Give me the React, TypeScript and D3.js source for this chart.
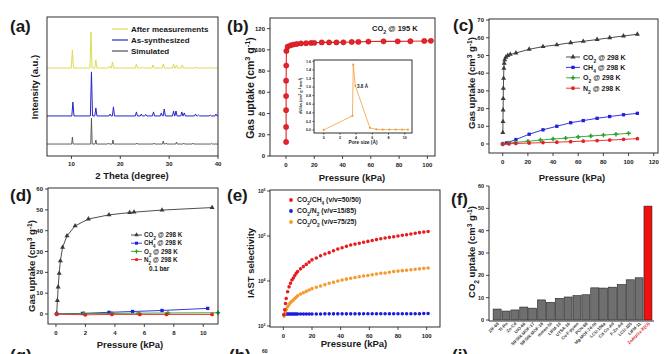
import React from 'react';
import * as d3 from 'd3';

const FONT = '"Liberation Sans", Arial, Helvetica, sans-serif';
const INK = '#1a1a1a';

// ---------- (a) PXRD peaks: [2theta, height above baseline]
const xrdTicks = [10, 20, 30, 40];
const simulatedPeaks = [[10.2, 5], [14.1, 18.7], [15.0, 2.9], [17.6, 0.7], [18.5, 2.9], [23.4, 0.7], [26.9, 0.7], [28.8, 2.2], [29.4, 0.7], [31.5, 1.4], [33.0, 0.7], [34.9, 0.7], [38.7, 0.5]];
const asSynthPeaks = [[10.3, 10], [14.1, 31.7], [15.0, 5.8], [17.9, 1.4], [18.6, 6.5], [23.3, 2.9], [24.3, 1.4], [25.2, 1.1], [26.8, 2.9], [28.4, 2.2], [29.0, 5.0], [30.9, 3.6], [31.4, 3.6], [32.6, 2.9], [33.1, 2.2], [35.4, 1.4], [36.0, 0.7], [38.4, 0.7], [39.6, 1.4]];
const afterPeaks = [[10.2, 13], [14.0, 26], [15.0, 5.8], [17.8, 1.4], [18.4, 4.3], [23.3, 2.9], [24.5, 0.7], [26.7, 2.2], [28.8, 2.9], [30.9, 2.9], [31.5, 2.2], [32.7, 2.2], [35.5, 0.7], [38.0, 0.5]];
const xrdOffsets = { simulated: 8.6, asSynth: 28.8, after: 63.3 };

// ---------- (b) CO2 @ 195 K
const b195P = [0.1, 0.1, 0.1, 0.1, 0.1, 0.2, 0.3, 1.2, 3.3, 5.2, 7.6, 10.6, 14.2, 17.7, 20, 25.3, 30.5, 35.7, 40.6, 46.5, 51.2, 58.3, 69, 79, 88, 97.8, 102.5];
const b195Q = [13.2, 27.4, 43.2, 56.5, 71, 85.2, 99, 103, 104.3, 105, 105.5, 106, 106.2, 106.5, 106.6, 107, 107, 107, 107.1, 107.4, 107.5, 107.8, 108, 108, 108.1, 108.4, 108.5];
const poreSize = [0, 3.55, 3.65, 3.9, 5.7, 6.5, 7.3, 8.1, 8.9, 9.7, 10.4];
const poreDv = [0, 0.33, 1.52, 1.03, 0.05, 0.015, 0.01, 0.01, 0.01, 0.01, 0.01];

// ---------- (c) 298 K isotherms to 1 bar
const cCO2P = [0.1, 0.2, 0.3, 0.4, 0.5, 0.7, 0.9, 1.2, 1.6, 2.5, 4, 6, 10.5, 21, 32, 43, 54, 64, 75, 85, 96, 107];
const cCO2Q = [6.4, 12.6, 19.2, 25.6, 31.4, 37.1, 42.7, 45.6, 47.5, 49, 50, 50.6, 51.4, 53.5, 55, 56, 57.2, 58, 59, 60, 61, 62];
const cCH4P = [0, 3, 10.5, 21, 32, 43, 54, 64, 75, 85, 96, 107];
const cCH4Q = [0, 0.6, 2.5, 5.5, 8, 10, 12, 13.2, 14.5, 15.5, 16.5, 17.3];
const cO2P = [0, 5, 10, 20, 30, 40, 50, 60, 70, 80, 90, 100];
const cO2Q = [0, 0.5, 0.9, 1.5, 2.2, 2.8, 3.3, 4, 4.5, 5, 5.5, 6];
const cN2P = [0, 5, 10.5, 21, 32, 43, 54, 64, 75, 85, 96, 107];
const cN2Q = [0, 0.1, 0.3, 0.5, 0.8, 1.0, 1.3, 1.6, 1.9, 2.2, 2.6, 3.0];

// ---------- (d) low pressure region
const dCO2P = [0.05, 0.1, 0.15, 0.22, 0.3, 0.45, 0.75, 1.3, 2.2, 3.6, 5.0, 5.3, 7.2, 10.6];
const dCO2Q = [0.3, 6.5, 13, 19.5, 25.5, 32, 37.5, 42.3, 45.6, 47.6, 48.7, 48.9, 49.9, 51.1];
const dCH4P = [0.05, 1.8, 3.6, 5.2, 7.2, 10.3];
const dCH4Q = [0, 0.3, 0.8, 1.2, 1.7, 2.7];
const dO2P = [0.05, 1.9, 3.8, 5.6, 7.6, 11.0];
const dO2Q = [0, 0.2, 0.3, 0.4, 0.5, 0.6];
const dN2P = [0.05, 2.0, 3.8, 5.7, 7.5, 10.6];
const dN2Q = [0, -0.4, -0.2, -0.2, -0.2, -0.2];

// ---------- (e) IAST selectivity
const iastP = [0.5, 1, 1.5, 2, 3, 4, 5, 6, 7, 8, 9, 10, 12, 14, 16, 18, 20, 23, 26, 29, 32, 35, 38, 41, 44, 47, 50, 53, 56, 59, 62, 65, 68, 71, 74, 77, 80, 83, 86, 89, 92, 95, 98, 101];
const selCH4 = [1780, 2290, 3160, 4070, 5750, 7410, 8910, 10500, 11700, 13200, 14800, 16200, 18600, 20900, 23400, 26300, 29500, 32400, 36300, 39800, 42700, 46800, 51300, 55000, 58900, 63100, 66100, 69200, 72400, 75900, 79400, 83200, 87100, 90200, 93300, 96600, 100000, 103500, 107000, 111000, 115000, 119000, 123000, 126000];
const selN2 = [1800, 1840, 1850, 1850, 1850, 1850, 1850, 1850, 1850, 1850, 1850, 1850, 1850, 1850, 1850, 1850, 1850, 1850, 1850, 1860, 1860, 1860, 1860, 1860, 1860, 1860, 1860, 1860, 1870, 1870, 1870, 1870, 1870, 1870, 1870, 1870, 1880, 1880, 1880, 1880, 1880, 1880, 1890, 1890];
const selO2 = [1660, 1820, 2140, 2340, 2690, 3020, 3310, 3550, 3800, 4070, 4370, 4680, 5130, 5500, 5890, 6310, 6760, 7240, 7760, 8320, 8910, 9330, 10000, 10500, 11000, 11500, 12000, 12400, 12900, 13300, 13800, 14300, 14800, 15100, 15700, 16200, 16600, 17000, 17400, 17800, 18200, 18600, 19100, 19500];

// ---------- (f) comparison of CO2 uptake
const mofNames = ['ZIF-69', 'TI-Ro', 'Zn-Cd', 'UiO-66', 'SIFSIX-MOF-17', 'SIFSIX-MOF-18', 'mmen-Ni', 'LIFM-10', 'UTSA-16', 'Cu-F-pymo', 'PCN-88', 'Mg-MOF-74-Ni', 'LCU-106a', 'Cd-Co-Ad', 'F-Zn-Ad', 'LCU-105', 'LIFM-11', 'ZnAtzOx-X(Cl)'];
const mofUptake = [4.9, 4.0, 4.5, 5.8, 5.3, 9.0, 7.9, 9.7, 10.3, 10.9, 11.3, 14.4, 14.3, 14.7, 15.9, 18.0, 18.9, 51.0];

const SHAPES: Record<string, any> = {
  circle: d3.symbolCircle,
  square: d3.symbolSquare,
  triangle: d3.symbolTriangle,
  cross: d3.symbolCross,
};

function Rich({ text }: { text: string }) {
  const parts = text.split(/(_\{[^}]*\}|\^\{[^}]*\})/).filter(Boolean);
  return (
    <>
      {parts.map((p, i) => {
        if (p.startsWith('_{')) return <tspan key={i} baselineShift="sub" fontSize="70%">{p.slice(2, -1)}</tspan>;
        if (p.startsWith('^{')) return <tspan key={i} baselineShift="super" fontSize="70%">{p.slice(2, -1)}</tspan>;
        return <tspan key={i}>{p}</tspan>;
      })}
    </>
  );
}

function Frame({ x0, x1, y0, y1, fill = 'none', box = true }: any) {
  if (!box)
    return <path d={`M${x0},${y0}V${y1}H${x1}`} fill="none" stroke={INK} strokeWidth={0.9} />;
  return <rect x={x0} y={y0} width={x1 - x0} height={y1 - y0} fill={fill} stroke={INK} strokeWidth={0.9} />;
}

function XTicks({ sc, y, ticks, fmt = (t: number) => String(t), fs = 6, dy = 11, len = 3 }: any) {
  return (
    <g>
      {ticks.map((t: number) => (
        <g key={t}>
          <line x1={sc(t)} x2={sc(t)} y1={y} y2={y + len} stroke={INK} strokeWidth={0.8} />
          <text x={sc(t)} y={y + dy} fontSize={fs} textAnchor="middle" fontWeight="bold" fill={INK}>
            {fmt(t)}
          </text>
        </g>
      ))}
    </g>
  );
}

function YTicks({ sc, x, ticks, fmt = (t: number) => String(t), fs = 6, dx = 5, len = 3 }: any) {
  return (
    <g>
      {ticks.map((t: number) => (
        <g key={t}>
          <line x1={x - len} x2={x} y1={sc(t)} y2={sc(t)} stroke={INK} strokeWidth={0.8} />
          <text x={x - dx} y={sc(t)} dy="0.35em" fontSize={fs} textAnchor="end" fontWeight="bold" fill={INK}>
            {fmt(t)}
          </text>
        </g>
      ))}
    </g>
  );
}

function Series({ xs, ys, sx, sy, color, shape = 'circle', size = 12, lw = 0.9, line = true, stroke }: any) {
  const pts: [number, number][] = xs.map((x: number, i: number) => [sx(x), sy(ys[i])]);
  const sym = d3.symbol().type(SHAPES[shape]).size(size)() as string;
  return (
    <g>
      {line && <path d={d3.line()(pts) as string} fill="none" stroke={color} strokeWidth={lw} />}
      {pts.map(([x, y], i) => (
        <path key={i} d={sym} transform={`translate(${x},${y})`} fill={color} stroke={stroke || 'none'} strokeWidth={0.4} />
      ))}
    </g>
  );
}

function YTitle({ x, y, text, fs = 9.5 }: any) {
  return (
    <text transform={`translate(${x},${y}) rotate(-90)`} textAnchor="middle" dy="0.35em" fontSize={fs} fontWeight="bold" fill={INK}>
      <Rich text={text} />
    </text>
  );
}

function Label({ x, y, text, fs = 9.5, anchor = 'middle', color = INK }: any) {
  return (
    <text x={x} y={y} fontSize={fs} fontWeight="bold" textAnchor={anchor} fill={color}>
      <Rich text={text} />
    </text>
  );
}

function PanelA() {
  const sx = d3.scaleLinear().domain([5, 40]).range([47, 218]);
  const sy = d3.scaleLinear().domain([0, 100]).range([156, 17]);
  const path = (peaks: number[][], off: number, w: number) => {
    const pts: [number, number][] = [[sx(5), sy(off)]];
    [...peaks].sort((a, b) => a[0] - b[0]).forEach(([p, h]) => {
      pts.push([sx(p - w), sy(off)], [sx(p), sy(off + h)], [sx(p + w), sy(off)]);
    });
    pts.push([sx(40), sy(off)]);
    return d3.line()(pts) as string;
  };
  const legend = [
    { name: 'After measurements', color: '#dcdc55' },
    { name: 'As-synthesized', color: '#2525c8' },
    { name: 'Simulated', color: '#505050' },
  ];
  return (
    <g>
      <path d={path(afterPeaks, xrdOffsets.after, 0.22)} fill="none" stroke="#dcdc55" strokeWidth={1} />
      <path d={path(asSynthPeaks, xrdOffsets.asSynth, 0.22)} fill="none" stroke="#2525c8" strokeWidth={1} />
      <path d={path(simulatedPeaks, xrdOffsets.simulated, 0.15)} fill="none" stroke="#505050" strokeWidth={0.9} />
      <Frame x0={47} x1={218} y0={17} y1={156} />
      <XTicks sc={sx} y={156} ticks={xrdTicks} dy={10} />
      {legend.map((d, i) => (
        <g key={d.name}>
          <line x1={112} x2={128} y1={29 + i * 11} y2={29 + i * 11} stroke={d.color} strokeWidth={1.2} />
          <Label x={131} y={29 + i * 11 + 2.8} text={d.name} fs={8} anchor="start" />
        </g>
      ))}
      <YTitle x={35} y={87} text="Intensity (a.u.)" />
      <Label x={132} y={179} text="2 Theta (degree)" />
      <Label x={10} y={32} text="(a)" fs={17} anchor="start" />
    </g>
  );
}

function PanelB() {
  const sx = d3.scaleLinear().domain([-11.3, 105.4]).range([270, 435]);
  const sy = d3.scaleLinear().domain([0, 130]).range([156, 18]);
  const ix = d3.scaleLinear().domain([-1.2, 10.9]).range([314, 412]);
  const iy = d3.scaleLinear().domain([-0.07, 1.63]).range([133, 60]);
  return (
    <g>
      <Series xs={b195P} ys={b195Q} sx={sx} sy={sy} color="#e8222a" stroke="#a01010" size={22} lw={1.1} />
      <Frame x0={270} x1={435} y0={18} y1={156} />
      <XTicks sc={sx} y={156} ticks={d3.range(0, 101, 20)} />
      <YTicks sc={sy} x={270} ticks={d3.range(0, 121, 20)} />
      <Label x={372} y={31} text="CO_{2} @ 195 K" fs={7.5} anchor="start" />
      <Frame x0={314} x1={412} y0={60} y1={133} fill="white" />
      <Series xs={poreSize} ys={poreDv} sx={ix} sy={iy} color="#f0a040" size={4} lw={0.8} />
      <XTicks sc={ix} y={133} ticks={d3.range(0, 11, 2)} fs={3.6} dy={6} len={1.5} />
      <YTicks sc={iy} x={314} ticks={d3.range(0, 1.61, 0.2)} fmt={(t: number) => t.toFixed(1)} fs={3.6} dx={3} len={1.5} />
      <Label x={363} y={144} text="Pore size (Å)" fs={4.8} />
      <YTitle x={301} y={96} text="dV/dw (cm^{3} g^{-1} nm^{-1})" fs={3.8} />
      <Label x={357} y={87.5} text="3.8 Å" fs={4.6} anchor="start" />
      <YTitle x={250} y={88} text="Gas uptake (cm^{3} g^{-1})" fs={10.5} />
      <Label x={352} y={181} text="Pressure (kPa)" />
      <Label x={227} y={32} text="(b)" fs={17} anchor="start" />
    </g>
  );
}

const gasLegend = [
  { name: 'CO_{2} @ 298 K', color: '#3a3a3a', shape: 'triangle' },
  { name: 'CH_{4} @ 298 K', color: '#1f1fdf', shape: 'square' },
  { name: 'O_{2} @ 298 K', color: '#2aa02a', shape: 'cross' },
  { name: 'N_{2} @ 298 K', color: '#e62020', shape: 'circle' },
];

function PanelC() {
  const sx = d3.scaleLinear().domain([-10.9, 123.4]).range([489, 658]);
  const sy = d3.scaleLinear().domain([-5.1, 70.6]).range([153, 19]);
  const sets = [[cCO2P, cCO2Q], [cCH4P, cCH4Q], [cO2P, cO2Q], [cN2P, cN2Q]];
  return (
    <g>
      {sets.map(([xs, ys], i) => (
        <Series key={i} xs={xs} ys={ys} sx={sx} sy={sy} color={gasLegend[i].color} shape={gasLegend[i].shape} size={11} />
      ))}
      <Frame x0={489} x1={658} y0={19} y1={153} />
      <XTicks sc={sx} y={153} ticks={d3.range(0, 121, 20)} />
      <YTicks sc={sy} x={489} ticks={d3.range(0, 71, 10)} />
      {gasLegend.map((d, i) => {
        const y = 57 + i * 10.4;
        return (
          <g key={d.name}>
            <line x1={566} x2={580} y1={y} y2={y} stroke={d.color} strokeWidth={0.9} />
            <path d={d3.symbol().type(SHAPES[d.shape]).size(11)() as string} transform={`translate(573,${y})`} fill={d.color} />
            <Label x={583} y={y + 2.5} text={d.name} fs={7} anchor="start" />
          </g>
        );
      })}
      <YTitle x={472} y={83} text="Gas uptake (cm^{3} g^{-1})" />
      <Label x={572} y={181} text="Pressure (kPa)" />
      <Label x={453} y={31} text="(c)" fs={17} anchor="start" />
    </g>
  );
}

function PanelD() {
  const sx = d3.scaleLinear().domain([-0.54, 11.0]).range([48, 218]);
  const sy = d3.scaleLinear().domain([-4.8, 60.5]).range([324, 188]);
  const sets = [[dCO2P, dCO2Q], [dCH4P, dCH4Q], [dO2P, dO2Q], [dN2P, dN2Q]];
  return (
    <g>
      {sets.map(([xs, ys], i) => (
        <Series key={i} xs={xs} ys={ys} sx={sx} sy={sy} color={gasLegend[i].color} shape={gasLegend[i].shape} size={11} />
      ))}
      <Frame x0={48} x1={218} y0={188} y1={324} />
      <XTicks sc={sx} y={324} ticks={d3.range(0, 11, 2)} />
      <YTicks sc={sy} x={48} ticks={d3.range(0, 61, 10)} />
      {gasLegend.map((d, i) => {
        const y = 235 + i * 8.2;
        return (
          <g key={d.name}>
            <line x1={131} x2={142} y1={y} y2={y} stroke={d.color} strokeWidth={0.9} />
            <path d={d3.symbol().type(SHAPES[d.shape]).size(9)() as string} transform={`translate(136.5,${y})`} fill={d.color} />
            <Label x={144} y={y + 2.2} text={d.name} fs={6.3} anchor="start" />
          </g>
        );
      })}
      <Label x={149} y={270.5} text="0.1 bar" fs={6.3} anchor="start" />
      <YTitle x={32} y={266} text="Gas uptake (cm^{3} g^{-1})" />
      <Label x={130} y={348} text="Pressure (kPa)" />
      <Label x={10} y={201} text="(d)" fs={17} anchor="start" />
    </g>
  );
}

function PanelE() {
  const sx = d3.scaleLinear().domain([-9.3, 109.3]).range([270, 440]);
  const sy = d3.scaleLog().domain([1e3, 1e6]).range([326, 191]);
  const series = [
    { name: 'CO_{2}/CH_{4} (v/v=50/50)', color: '#e81c1c', ys: selCH4 },
    { name: 'CO_{2}/N_{2} (v/v=15/85)', color: '#1c1cdc', ys: selN2 },
    { name: 'CO_{2}/O_{2} (v/v=75/25)', color: '#f59a30', ys: selO2 },
  ];
  return (
    <g>
      {[series[1], series[2], series[0]].map((s) => (
        <Series key={s.name} xs={iastP} ys={s.ys} sx={sx} sy={sy} color={s.color} size={10} line={false} />
      ))}
      <Frame x0={270} x1={440} y0={190} y1={327} />
      <XTicks sc={sx} y={327} ticks={d3.range(0, 101, 20)} />
      <YTicks sc={sy} x={270} ticks={[1e3, 1e4, 1e5, 1e6]} fs={5} dx={4.5} fmt={(t: number) => <Rich text={`10^{${Math.round(Math.log10(t))}}`} />} />
      {series.map((s, i) => {
        const y = 200 + i * 11;
        return (
          <g key={s.name}>
            <circle cx={291} cy={y} r={1.9} fill={s.color} />
            <Label x={297} y={y + 2.4} text={s.name} fs={6.8} anchor="start" />
          </g>
        );
      })}
      <YTitle x={251} y={263} text="IAST selectivity" />
      <Label x={354} y={347} text="Pressure (kPa)" />
      <Label x={227} y={201} text="(e)" fs={17} anchor="start" />
    </g>
  );
}

function PanelF() {
  const sx = d3.scaleBand().domain(mofNames).range([492.7, 652.4]).paddingInner(0.1).paddingOuter(0.05);
  const sy = d3.scaleLinear().domain([0, 60]).range([320, 186]);
  const last = mofNames[mofNames.length - 1];
  return (
    <g>
      {mofNames.map((n, i) => (
        <rect key={n} x={sx(n)} y={sy(mofUptake[i])} width={sx.bandwidth()} height={sy(0) - sy(mofUptake[i])}
          fill={n === last ? '#f01010' : '#6f6f6f'} stroke="#222" strokeWidth={0.6} />
      ))}
      <Frame x0={489} x1={654} y0={186} y1={321} box={false} />
      <YTicks sc={sy} x={489} ticks={d3.range(0, 61, 10)} fs={5.5} />
      {mofNames.map((n) => {
        const x = (sx(n) as number) + sx.bandwidth() / 2 + 2;
        return (
          <text key={n} transform={`translate(${x},${324}) rotate(-45)`} textAnchor="end" fontSize={4.3} fontWeight="bold"
            fill={n === last ? '#e01010' : '#333'}>
            {n}
          </text>
        );
      })}
      <YTitle x={472} y={252} text="CO_{2} uptake (cm^{3} g^{-1})" />
      <Label x={451} y={205} text="(f)" fs={17} anchor="start" />
    </g>
  );
}

export default function App() {
  return (
    <svg width={666} height={354} viewBox="0 0 666 354" fontFamily={FONT}
      style={{ position: 'absolute', left: 0, top: 0, background: 'white', display: 'block' }}>
      <rect width={666} height={354} fill="white" />
      <PanelA />
      <PanelB />
      <PanelC />
      <PanelD />
      <PanelE />
      <PanelF />
      <Label x={10} y={361} text="(g)" fs={17} anchor="start" />
      <Label x={229} y={361} text="(h)" fs={17} anchor="start" />
      <Label x={262} y={353} text="60" fs={5} anchor="start" />
      <Label x={452} y={361} text="(i)" fs={17} anchor="start" />
    </svg>
  );
}
